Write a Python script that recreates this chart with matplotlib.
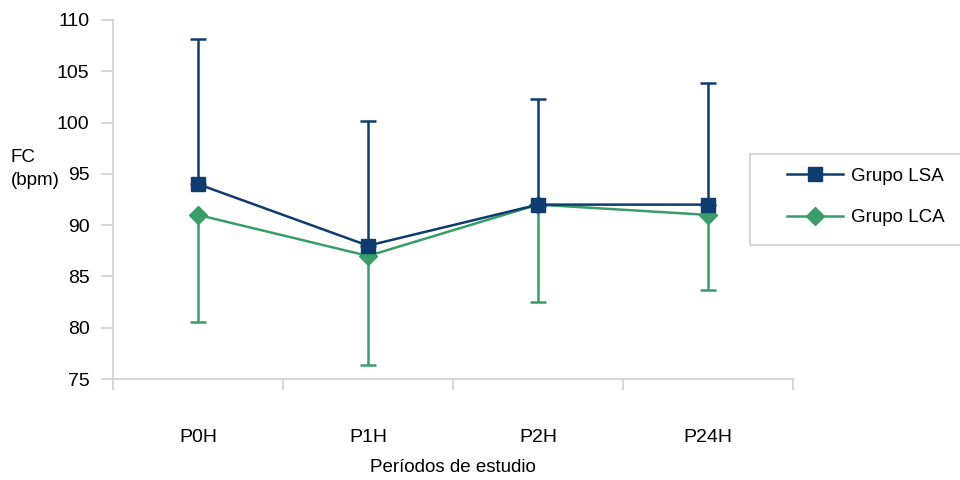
import numpy as np
import matplotlib.pyplot as plt
from matplotlib.patches import Rectangle
from matplotlib.lines import Line2D

plt.rcParams['font.family'] = ['Liberation Sans', 'DejaVu Sans']

periodos = ['P0H', 'P1H', 'P2H', 'P24H']
lsa = [94, 88, 92, 92]
lsa_sup = [108.1, 100.2, 102.3, 103.9]
lca = [91, 87, 92, 91]
lca_inf = [80.6, 76.4, 82.5, 83.7]

c_lsa = '#0E3C6E'
c_lca = '#3A9C68'
gris = '#CFCFCF'

fig = plt.figure(figsize=(9.6, 4.8), dpi=100)
ax = fig.add_axes([113/960, 1-379/480, 680/960, 359/480])

x = np.arange(len(periodos))
err_lsa = [np.zeros(4), np.array(lsa_sup) - np.array(lsa)]
err_lca = [np.array(lca) - np.array(lca_inf), np.zeros(4)]

ax.errorbar(x, lsa, yerr=err_lsa, color=c_lsa, lw=1.8, marker='s', ms=10,
            capsize=6, capthick=1.8, elinewidth=1.8, zorder=3)
ax.errorbar(x, lca, yerr=err_lca, color=c_lca, lw=1.8, marker='D', ms=9,
            capsize=6, capthick=1.8, elinewidth=1.8, zorder=2)

ax.set_xlim(-0.5, 3.5)
ax.set_ylim(75, 110)
ax.set_yticks(np.arange(75, 111, 5))
ax.set_xticks(np.arange(-0.5, 3.6, 1))
ax.set_xticklabels([])
ax.set_xticks(x, minor=True)
ax.set_xticklabels(periodos, minor=True)
ax.tick_params(axis='x', which='minor', length=0, pad=36, labelsize=14)
ax.tick_params(axis='x', which='major', length=8, color=gris, width=1.2)
ax.tick_params(axis='y', length=9, color=gris, width=1.2, pad=8, labelsize=14)

for s in ['top', 'right']:
    ax.spines[s].set_visible(False)
for s in ['left', 'bottom']:
    ax.spines[s].set_color(gris)
    ax.spines[s].set_linewidth(1.2)

fig.text(11/960, 1-169/480, 'FC\n(bpm)', fontsize=13.5, ha='left', va='center', linespacing=1.45)
fig.text(453/960, 1-467/480, 'Períodos de estudio', fontsize=13.5, ha='center', va='center')

fig.patches.append(Rectangle((750/960, 1-245/480), 260/960, 91/480,
                             transform=fig.transFigure, fill=False, ec=gris, lw=1.2))
handles = [Line2D([], [], color=c_lsa, lw=1.8, marker='s', ms=10),
           Line2D([], [], color=c_lca, lw=1.8, marker='D', ms=9)]
leg = ax.legend(handles, ['Grupo LSA', 'Grupo LCA'], loc='upper left',
                bbox_to_anchor=(770/960, 1-151/480),
                bbox_transform=fig.transFigure, frameon=False, fontsize=13.5,
                handlelength=3.0, handletextpad=0.4, labelspacing=1.3)

fig.savefig('out.png', dpi=100)
